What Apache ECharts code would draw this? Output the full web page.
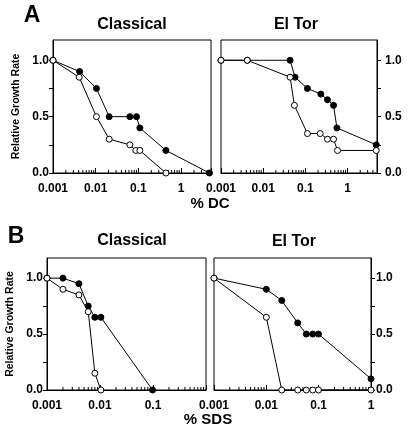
<!DOCTYPE html>
<html>
<head>
<meta charset="utf-8">
<script src="https://cdn.jsdelivr.net/npm/echarts@6/dist/echarts.min.js"></script>
<style>
html,body{margin:0;padding:0;background:#fff;}
#chart{width:408px;height:433px;}
</style>
</head>
<body>
<div id="chart"></div>
<script>
// ---- Data ----
const panelTitles = ['Classical', 'El Tor', 'Classical', 'El Tor'];
const panelLetters = ['A', 'B'];
const xAxisTitles = ['% DC', '% SDS'];
const yAxisTitle = 'Relative Growth Rate';
const yTickValues = [0, 0.5, 1.0];

// Panel A – Classical (% DC)
const aClassFilledX = [0.001, 0.0042, 0.0104, 0.0207, 0.063, 0.09, 0.108, 0.44, 4.6];
const aClassFilledY = [1.0, 0.9, 0.75, 0.5, 0.5, 0.5, 0.4, 0.2, 0.0];
const aClassOpenX = [0.001, 0.0041, 0.0104, 0.0207, 0.063, 0.087, 0.108, 0.44];
const aClassOpenY = [1.0, 0.85, 0.5, 0.3, 0.25, 0.2, 0.2, 0.0];
// Panel A – El Tor (% DC)
const aTorFilledX = [0.001, 0.0042, 0.0435, 0.057, 0.112, 0.233, 0.335, 0.466, 0.56, 4.8];
const aTorFilledY = [1.0, 1.0, 1.0, 0.85, 0.75, 0.7, 0.65, 0.6, 0.4, 0.25];
const aTorOpenX = [0.001, 0.0042, 0.0435, 0.055, 0.112, 0.225, 0.335, 0.466, 0.58, 4.8];
const aTorOpenY = [1.0, 1.0, 0.85, 0.6, 0.35, 0.35, 0.3, 0.3, 0.2, 0.2];
// Panel B – Classical (% SDS)
const bClassFilledX = [0.001, 0.002, 0.004, 0.006, 0.008, 0.0104, 0.098];
const bClassFilledY = [1.0, 1.0, 0.95, 0.75, 0.65, 0.65, 0.0];
const bClassOpenX = [0.001, 0.002, 0.004, 0.006, 0.008, 0.0104];
const bClassOpenY = [1.0, 0.9, 0.85, 0.7, 0.15, 0.0];
// Panel B – El Tor (% SDS)
const bTorFilledX = [0.001, 0.01, 0.0197, 0.0398, 0.058, 0.077, 0.099, 1.0];
const bTorFilledY = [1.0, 0.9, 0.8, 0.6, 0.5, 0.5, 0.5, 0.1];
const bTorOpenX = [0.001, 0.01, 0.0197, 0.0398, 0.058, 0.077, 0.099, 1.0];
const bTorOpenY = [1.0, 0.65, 0.0, 0.0, 0.0, 0.0, 0.0, 0.0];

const xMins = [0.001, 0.001, 0.001, 0.001];
const xMaxs = [5, 5, 1, 1];
const hiddenXLabels = [[], [], [1], []];

// ---- Layout / style ----
const FONT = '"Liberation Sans", Arial, Helvetica, sans-serif';
const grids = [
  {left: 53, top: 40, width: 158, height: 133},
  {left: 221, top: 40, width: 156, height: 133},
  {left: 47, top: 258, width: 159, height: 132},
  {left: 214, top: 258, width: 157, height: 132}
];

function zip(xs, ys) { return xs.map((x, i) => [x, ys[i]]); }

function minorTicks(min, max) {
  const out = [];
  for (let e = Math.floor(Math.log10(min)); e <= Math.ceil(Math.log10(max)); e++) {
    for (let m = 2; m <= 9; m++) {
      const v = m * Math.pow(10, e);
      if (v > min && v < max) out.push([v, 0]);
    }
  }
  return out;
}

function fmtX(v, idx) {
  const lg = Math.log10(v);
  if (Math.abs(lg - Math.round(lg)) > 1e-6) return '';
  const p = Math.pow(10, Math.round(lg));
  if (hiddenXLabels[idx].some(h => Math.abs(h - p) < 1e-9)) return '';
  return p >= 1 ? String(Math.round(p)) : p.toFixed(-Math.round(lg));
}

const xAxes = grids.map((g, i) => ({
  type: 'log', gridIndex: i, min: xMins[i], max: xMaxs[i], logBase: 10,
  axisLine: {show: true, lineStyle: {color: '#000', width: 1}},
  axisTick: {show: true, inside: true, length: 5, lineStyle: {color: '#000'}},
  splitLine: {show: false},
  axisLabel: {
    margin: 10, color: '#000', fontFamily: FONT, fontWeight: 'bold', fontSize: 12,
    showMinLabel: true, showMaxLabel: true, hideOverlap: false,
    formatter: v => fmtX(v, i)
  }
}));

const yAxes = grids.map((g, i) => {
  const right = (i % 2 === 1);
  return {
    type: 'value', gridIndex: i, min: 0, max: 1.18, interval: 0.25,
    position: right ? 'right' : 'left',
    name: right ? '' : yAxisTitle,
    nameLocation: 'middle', nameGap: 31,
    nameTextStyle: {color: '#000', fontFamily: FONT, fontWeight: 'bold', fontSize: 10.5},
    axisLine: {show: true, lineStyle: {color: '#000', width: 1}},
    axisTick: {show: true, inside: false, length: 4, lineStyle: {color: '#000'}},
    splitLine: {show: false},
    axisLabel: {
      margin: right ? (i === 1 ? 8 : 5) : 4,
      color: '#000', fontFamily: FONT, fontWeight: 'bold', fontSize: 12,
      showMaxLabel: false,
      formatter: v => yTickValues.some(t => Math.abs(t - v) < 1e-6) ? v.toFixed(1) : ''
    }
  };
});

const panelData = [
  [zip(aClassFilledX, aClassFilledY), zip(aClassOpenX, aClassOpenY)],
  [zip(aTorFilledX, aTorFilledY), zip(aTorOpenX, aTorOpenY)],
  [zip(bClassFilledX, bClassFilledY), zip(bClassOpenX, bClassOpenY)],
  [zip(bTorFilledX, bTorFilledY), zip(bTorOpenX, bTorOpenY)]
];

const series = [];
panelData.forEach((pd, i) => {
  series.push({
    type: 'custom', xAxisIndex: i, yAxisIndex: i, silent: true, clip: false,
    encode: {x: 0, y: 1},
    data: minorTicks(xMins[i], xMaxs[i]),
    renderItem: (params, api) => {
      const p = api.coord([api.value(0), 0]);
      return {type: 'line', shape: {x1: p[0], y1: p[1], x2: p[0], y2: p[1] - 3},
              style: {stroke: '#000', lineWidth: 1}};
    }
  });
  series.push({
    type: 'line', xAxisIndex: i, yAxisIndex: i, data: pd[0],
    symbol: 'circle', symbolSize: 6, showAllSymbol: true,
    lineStyle: {color: '#000', width: 1},
    itemStyle: {color: '#000', borderColor: '#000', borderWidth: 1}
  });
  series.push({
    type: 'line', xAxisIndex: i, yAxisIndex: i, data: pd[1],
    symbol: 'circle', symbolSize: 6, showAllSymbol: true,
    lineStyle: {color: '#000', width: 1},
    itemStyle: {color: '#fff', borderColor: '#000', borderWidth: 1}
  });
});

function txt(text, x, y, size) {
  return {type: 'text', x: x, y: y, silent: true,
    style: {text: text, fill: '#000', font: 'bold ' + size + 'px ' + FONT,
            textAlign: 'center', textVerticalAlign: 'middle'}};
}

const graphics = [
  txt(panelLetters[0], 32, 16, 23),
  txt(panelLetters[1], 16, 237, 23),
  txt(panelTitles[0], 132, 25, 16),
  txt(panelTitles[1], 296, 25, 16),
  txt(panelTitles[2], 132, 241, 16),
  txt(panelTitles[3], 294, 242, 16),
  txt(xAxisTitles[0], 210, 204, 15),
  txt(xAxisTitles[1], 208, 420, 15)
];

const chart = echarts.init(document.getElementById('chart'), null, {renderer: 'canvas'});
chart.setOption({
  animation: false,
  backgroundColor: '#fff',
  grid: grids.map(g => Object.assign({show: true, borderColor: '#000', borderWidth: 1, backgroundColor: 'transparent'}, g)),
  xAxis: xAxes,
  yAxis: yAxes,
  series: series,
  graphic: graphics
});
</script>
</body>
</html>
